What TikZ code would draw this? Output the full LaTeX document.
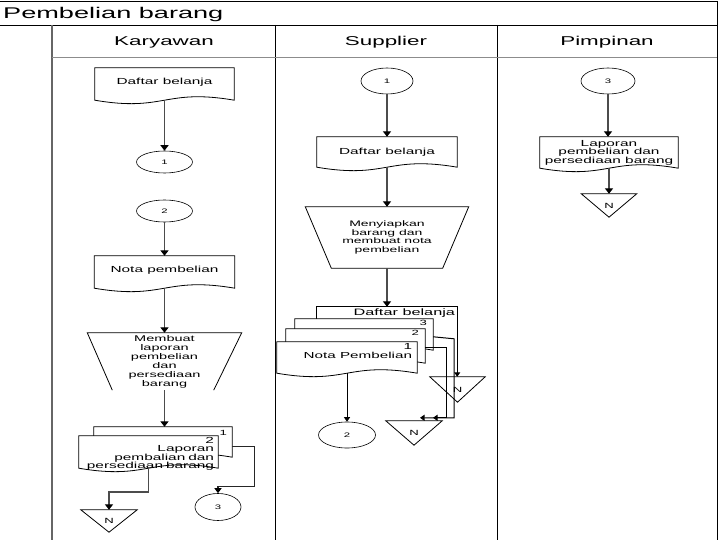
\documentclass[tikz,border=0pt]{standalone}
\usepackage{fontspec}
\setmainfont{Liberation Sans}[FakeStretch=1.75]
\usetikzlibrary{shapes.geometric,arrows.meta,calc}
\pgfdeclarelayer{bg}
\pgfsetlayers{bg,main}
\newcommand\mydocpath[2]{(#1.north west) -- ($(#1.south west)+(0,#2)$) .. controls ($(#1.south)+(0,#2+12)$) and ($(#1.south)+(0,#2-12)$) .. ($(#1.south east)+(0,#2)$) -- (#1.north east) -- cycle}
\begin{document}
\begin{tikzpicture}[x=1pt,y=-1pt,
  kbox/.style={rectangle, inner sep=0pt, align=center, font=\fontsize{8.8}{8.6}\selectfont},
  kshp/.style={draw=black, line width=0.8pt, fill=white},
  conn/.style={draw=black!70, line width=1.8pt, -{Triangle[width=8pt,length=5.5pt,color=black]}},
  connk/.style={draw=black!85, line width=1.3pt, -{Triangle[width=7pt,length=5pt,color=black]}},
  conns/.style={draw=black, line width=1.0pt, -{Triangle[width=6pt,length=4.5pt,color=black]}},
  kterm/.style={ellipse, draw=black, line width=0.6pt, inner sep=0pt, font=\fontsize{6.5}{7}\selectfont},
  ktri/.style={rectangle, inner sep=0pt, font=\fontsize{7.5}{8}\selectfont},
  hdr/.style={font=\fontsize{12.8}{13}\selectfont, anchor=base, inner sep=0pt},
  klbl/.style={inner sep=0pt, font=\fontsize{7.5}{8}\selectfont}
]
\useasboundingbox (0,0) rectangle (720,540);
% frame
\draw[line width=0.9pt] (0,1.5) -- (717,1.5) -- (717,540);
\draw[line width=0.9pt] (0,25) -- (717,25);
\draw[line width=2pt, draw=black!60] (52,25) -- (52,540);
\draw[line width=0.9pt] (275,25) -- (275,540);
\draw[line width=0.9pt] (497,25) -- (497,540);
\draw[line width=0.5pt, draw=black!45] (52,57) -- (717,57);
\node[anchor=base west, inner sep=0pt, font=\fontsize{15.5}{16}\selectfont] (title) at (3,18.5) {Pembelian barang};
\node[hdr] (hk) at (164,46) {Karyawan};
\node[hdr] (hs) at (386,46) {Supplier};
\node[hdr] (hp) at (607,46) {Pimpinan};

% Karyawan
\node[kbox, minimum width=139pt, minimum height=28pt] (kd1) at (164.5,82) {Daftar belanja};
\node[kterm, minimum width=56pt, minimum height=22pt] (kc1) at (164.5,162) {1};
\node[kterm, minimum width=56pt, minimum height=22pt] (kc2) at (164.5,211) {2};
\node[kbox, minimum width=140pt, minimum height=28pt] (kd2) at (164.5,270) {Nota pembelian};
\node[kbox, minimum width=154pt, minimum height=57pt, font=\fontsize{8.3}{9}\selectfont] (km1) at (164.5,361.5) {Membuat\\laporan\\pembelian\\dan\\persediaan\\barang};
\node[kbox, minimum width=138pt, minimum height=26pt] (kb1) at (163,440) {};
\node[kbox, minimum width=139pt, minimum height=36pt, text width=131pt, align=right, font=\fontsize{8.8}{8.5}\selectfont] (kb2) at (148.5,454) {2\\Laporan\\pembalian dan\\persediaan barang};
\node[klbl, anchor=north east] (kb1t) at ($(kb1.north east)+(-5,3)$) {1};
\node[ktri, minimum width=56pt, minimum height=22pt] (kn1) at (109,521) {N};
\node[kterm, minimum width=46pt, minimum height=27pt] (kc3) at (218,507) {3};

% Supplier
\node[kterm, minimum width=52pt, minimum height=26pt] (sc1) at (387,81) {1};
\node[kbox, minimum width=140pt, minimum height=30pt] (sd1) at (387,152) {Daftar belanja};
\node[kbox, minimum width=163pt, minimum height=61pt, font=\fontsize{8}{8.5}\selectfont] (sm1) at (387,237.5) {Menyiapkan\\barang dan\\membuat nota\\pembelian};
\node[kbox, minimum width=140pt, minimum height=13pt] (sb0) at (387,313.5) {};
\node[kbox, minimum width=138pt, minimum height=31pt] (sb3) at (364,334.5) {};
\node[kbox, minimum width=139pt, minimum height=34pt] (sb2) at (355.5,346) {};
\node[kbox, minimum width=140pt, minimum height=31pt] (sb1) at (347,357.5) {};
\node[klbl, anchor=east, font=\fontsize{9.3}{9}\selectfont] (sb0t) at ($(sb0.north east)+(-2,6.5)$) {Daftar belanja};
\node[klbl, anchor=north east] (sb3t) at ($(sb3.north east)+(-6,1)$) {3};
\node[klbl, anchor=north east] (sb2t) at ($(sb2.north east)+(-6,1)$) {2};
\node[klbl, anchor=north east, align=right, font=\fontsize{8.7}{9}\selectfont] (sb1t) at ($(sb1.north east)+(-5,1.5)$) {1\\Nota Pembelian};
\node[kterm, minimum width=57pt, minimum height=26pt] (sc2) at (347,435) {2};
\node[ktri, minimum width=55pt, minimum height=25pt] (sn1) at (457.5,389.5) {N};
\node[ktri, minimum width=56pt, minimum height=24pt] (sn2) at (414,433) {N};

% Pimpinan
\node[kterm, minimum width=54pt, minimum height=26pt] (pc3) at (608,81) {3};
\node[kbox, minimum width=138pt, minimum height=31pt] (pd1) at (609,152.5) {Laporan\\pembelian dan\\persediaan barang};
\node[ktri, minimum width=55pt, minimum height=23pt] (pn1) at (609,205.5) {N};

\begin{pgfonlayer}{bg}
 \draw[kshp] \mydocpath{kd1}{4};
 \draw[kshp] \mydocpath{kd2}{4};
 \draw[kshp] ($(km1.south west)+(25,0)$) -- (km1.north west) -- (km1.north east) -- ($(km1.south east)+(-28,0)$);
 \draw[kshp] \mydocpath{kb1}{4};
 \draw[kshp] \mydocpath{kb2}{-4};
 \draw[kshp] (kn1.north west) -- (kn1.north east) -- (kn1.south) -- cycle;
 \draw[kshp] \mydocpath{sd1}{0};
 \draw[kshp] ($(sm1.south west)+(26,0)$) -- (sm1.north west) -- (sm1.north east) -- ($(sm1.south east)+(-26,0)$) -- cycle;
 \draw[kshp] ($(sb0.south west)+(0,25)$) -- (sb0.north west) -- (sb0.north east) -- ($(sb0.south east)+(0,25)$);
 \draw[kshp] \mydocpath{sb3}{0};
 \draw[kshp] \mydocpath{sb2}{0};
 \draw[kshp] \mydocpath{sb1}{0};
 \draw[kshp] (sn1.north west) -- (sn1.north east) -- (sn1.south) -- cycle;
 \draw[kshp] (sn2.north west) -- (sn2.north east) -- (sn2.south) -- cycle;
 \draw[kshp] \mydocpath{pd1}{0};
 \draw[kshp] (pn1.north west) -- (pn1.north east) -- (pn1.south) -- cycle;
\end{pgfonlayer}

% connectors Karyawan
\coordinate (kd1w) at ($(kd1.south)+(0,4)$);
\draw[conn] (kd1w) -- (kc1);
\draw[conn] (kc2) -- (kd2);
\coordinate (kd2w) at ($(kd2.south)+(0,4)$);
\draw[conn] (kd2w) -- (km1.north);
\draw[conn] (km1.south) -- (km1.south |- kb1.north);
\coordinate (kb2w) at ($(kb2.south)+(0,-4)$);
\draw[conn] (kb2w) -- ++(0,24) -| (kn1.north);
\coordinate (kb1r) at ($(kb1.north east)+(0,20)$);
\draw[connk] (kb1r) -- ++(22,0) |- ($(kc3.north)+(0,-7)$) -- (kc3.north);

% connectors Supplier
\draw[conn] (sc1) -- (sd1.north);
\draw[conn] (sd1.south) -- (sm1.north);
\draw[conn] (sm1.south) -- (sm1.south |- sb0.north);
\draw[conns] (sb0.north east) -- (sb0.north east |- sn1.north);
\draw[conns] ($(sb3.north east)+(0,18)$) -- ++(21,2) |- ($(sn2.north)+(6,-3)$);
\draw[conns] ($(sb2.north east)+(0,19)$) -- ++(21,0) |- ($(sn2.north)+(19,-3)$);
\draw[conns] (sb1.south) -- (sc2);

% connectors Pimpinan
\draw[conn] (pc3) -- (pc3 |- pd1.north);
\draw[conn] (pd1.south) -- (pd1.south |- pn1.north);
\end{tikzpicture}
\end{document}
